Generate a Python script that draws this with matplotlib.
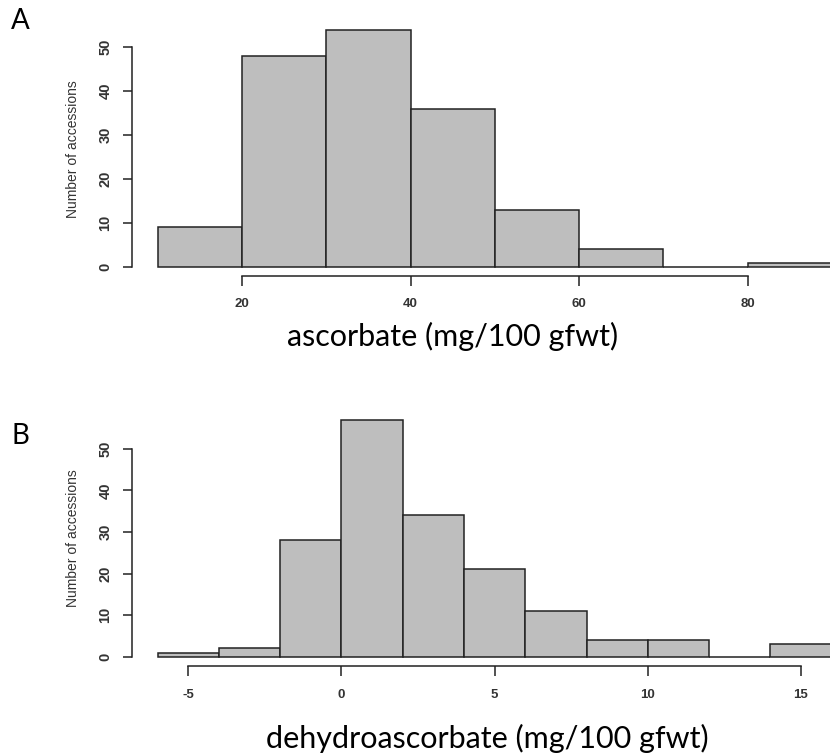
import matplotlib
matplotlib.use("Agg")
import matplotlib.pyplot as plt

# panel A: ascorbate histogram (bin edges and counts)
asc_edges = [10, 20, 30, 40, 50, 60, 70, 80, 90]
asc_counts = [9, 48, 54, 36, 13, 4, 0, 1]
asc_ticks = [20, 40, 60, 80]

# panel B: dehydroascorbate histogram
dha_edges = [-6, -4, -2, 0, 2, 4, 6, 8, 10, 12, 14, 16]
dha_counts = [1, 2, 28, 57, 34, 21, 11, 4, 4, 0, 3]
dha_ticks = [-5, 0, 5, 10, 15]

y_ticks = [0, 10, 20, 30, 40, 50]

W, H, DPI = 830, 756, 100
fig = plt.figure(figsize=(W / DPI, H / DPI), dpi=DPI)
tick_font = "Liberation Sans"
big_font = "Lato"


def place(ax, xpx, xval, ypx, yval, xlim, ylim):
    # put axes so that data values land on given pixel positions
    sx = (xpx[1] - xpx[0]) / (xval[1] - xval[0])
    sy = (ypx[1] - ypx[0]) / (yval[1] - yval[0])
    left = xpx[0] + (xlim[0] - xval[0]) * sx
    right = xpx[0] + (xlim[1] - xval[0]) * sx
    bottom = ypx[0] + (ylim[0] - yval[0]) * sy
    top = ypx[0] + (ylim[1] - yval[0]) * sy
    ax.set_position([left / W, 1 - bottom / H, (right - left) / W, (bottom - top) / H])
    ax.set_xlim(xlim)
    ax.set_ylim(ylim)
    return left, bottom


def draw_hist(ax, edges, counts, xticks, left_px, bottom_px, yspine_px, xspine_px):
    widths = [edges[i + 1] - edges[i] for i in range(len(counts))]
    bars = ax.bar(edges[:-1], counts, width=widths, align="edge",
                  color="#bebebe", edgecolor="#222222", linewidth=1.1)
    for b in bars:
        b.set_clip_on(False)
    for s in ["top", "right"]:
        ax.spines[s].set_visible(False)
    ax.spines["left"].set_position(("outward", (left_px - yspine_px) * 72 / DPI))
    ax.spines["bottom"].set_position(("outward", (xspine_px - bottom_px) * 72 / DPI))
    ax.spines["left"].set_bounds(0, 50)
    ax.spines["bottom"].set_bounds(xticks[0], xticks[-1])
    for s in ["left", "bottom"]:
        ax.spines[s].set_linewidth(1.1)
        ax.spines[s].set_color("#222222")
    ax.set_yticks(y_ticks, labels=[str(v) for v in y_ticks], fontsize=10.5,
                  family=tick_font, fontweight="bold", color="#333333",
                  rotation=90, va="center")
    ax.set_xticks(xticks, labels=[str(v) for v in xticks], fontsize=9.5,
                  family=tick_font, fontweight="bold", color="#333333")
    ax.tick_params(axis="y", length=6.5, width=1.1, color="#222222", pad=7.5)
    ax.tick_params(axis="x", length=7.4, width=1.1, color="#222222", pad=9)
    ax.patch.set_visible(False)


axA = fig.add_axes([0, 0, 1, 1])
lA, bA = place(axA, (242, 747.7), (20, 80), (267, 47.3), (0, 50), (10, 90), (0, 58))
draw_hist(axA, asc_edges, asc_counts, asc_ticks, lA, bA, 131.7, 275.7)

axB = fig.add_axes([0, 0, 1, 1])
lB, bB = place(axB, (188.3, 801), (-5, 15), (656.7, 448.7), (0, 50), (-6, 16), (0, 58))
draw_hist(axB, dha_edges, dha_counts, dha_ticks, lB, bB, 131.7, 666)

# y labels (R style)
fig.text(73 / W, 1 - 149 / H, "Number of accessions", rotation=90, ha="center", va="center",
         fontsize=10, family=tick_font, color="#333333")
fig.text(73 / W, 1 - 538 / H, "Number of accessions", rotation=90, ha="center", va="center",
         fontsize=10, family=tick_font, color="#333333")

# x labels (large)
fig.text(453 / W, 1 - 336 / H, "ascorbate (mg/100 gfwt)", ha="center", va="center",
         fontsize=22, family=big_font, color="black")
fig.text(487 / W, 1 - 738 / H, "dehydroascorbate (mg/100 gfwt)", ha="center", va="center",
         fontsize=22, family=big_font, color="black")

# panel letters
fig.text(20 / W, 1 - 21 / H, "A", ha="center", va="center", fontsize=20, family=big_font)
fig.text(20 / W, 1 - 436 / H, "B", ha="center", va="center", fontsize=20, family=big_font)

fig.savefig("out.png", dpi=DPI)
